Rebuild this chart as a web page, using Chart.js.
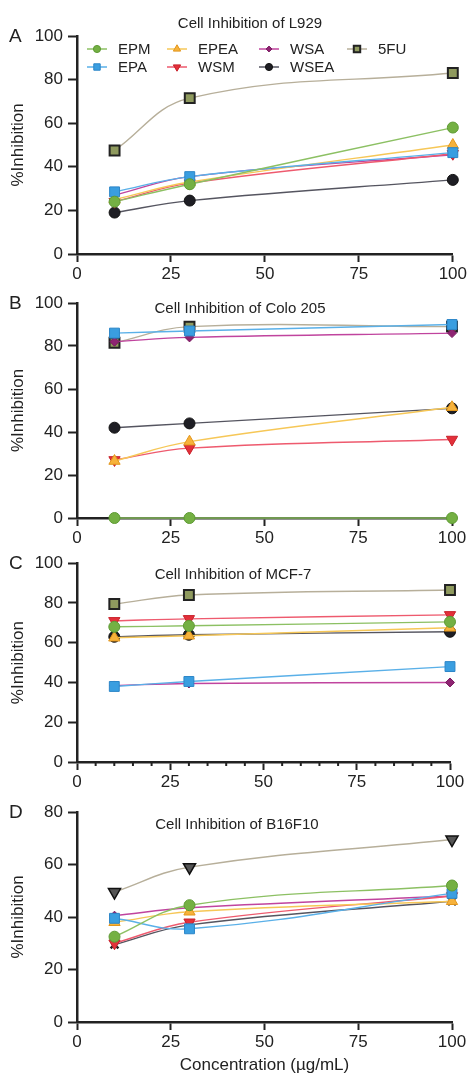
<!DOCTYPE html>
<html lang="en">
<head>
<meta charset="UTF-8">
<title>Cell Inhibition</title>
<script src="https://cdn.jsdelivr.net/npm/chart.js"></script>
<style>
  body { margin: 0; background: #fff; }
  #wrap { position: relative; width: 469px; height: 1076px; }
  .panel { position: absolute; left: 0; width: 469px; }
</style>
</head>
<body>
<div id="wrap">
  <div class="panel" style="top:0px;height:284px"><canvas id="chartA" width="469" height="284"></canvas></div>
  <div class="panel" style="top:284px;height:264px"><canvas id="chartB" width="469" height="264"></canvas></div>
  <div class="panel" style="top:548px;height:244px"><canvas id="chartC" width="469" height="244"></canvas></div>
  <div class="panel" style="top:792px;height:284px"><canvas id="chartD" width="469" height="284"></canvas></div>
</div>
<script>
// data (x = concentration, ug/mL)
const concentrations = [10, 30, 100];
const seriesNames = ['EPM', 'EPA', 'EPEA', 'WSM', 'WSA', 'WSEA', '5FU'];
const xTickValues = [0, 25, 50, 75, 100];
const yTicks100 = [0, 20, 40, 60, 80, 100];
const yTicks80 = [0, 20, 40, 60, 80];

// rows follow seriesNames
const l929 = [
  [24, 32, 58],
  [28.5, 35.5, 46.5],
  [25, 33, 50],
  [24, 32.5, 46],
  [27, 35.5, 45.5],
  [19, 24.5, 34],
  [47.5, 71.5, 83]
];
const colo205 = [
  [0, 0, 0],
  [86, 87, 90],
  [26.5, 35.5, 51.5],
  [27, 32.5, 36.5],
  [82, 84, 86],
  [42, 44, 51],
  [81.5, 89, 89]
];
const mcf7 = [
  [68, 68.5, 70.5],
  [38, 40.5, 48],
  [62.5, 63.5, 67.5],
  [71, 72, 74],
  [38.5, 39.5, 40],
  [63, 64, 65.5],
  [79.5, 84, 86.5]
];
const b16f10 = [
  [32.5, 44.5, 52],
  [39.5, 35.5, 49],
  [38, 42, 46],
  [30, 38, 48],
  [40.5, 43.5, 48],
  [29.5, 37, 46],
  [49.5, 59, 69.5]
];

const fontFamily = '"Liberation Sans", Arial, sans-serif';
const axisColor = '#222';

const seriesStyle = {
  'EPM':  { line: '#8cc063', fill: '#74b043', border: '#5e9a34', style: 'circle',   rotation: 0,   radius: 5.5, bw: 1 },
  'EPA':  { line: '#5ab0e8', fill: '#3a9ee0', border: '#2c86c8', style: 'rect',     rotation: 0,   radius: 7,   bw: 1 },
  'EPEA': { line: '#f6c757', fill: '#f7b23b', border: '#e2961c', style: 'triangle', rotation: 0,   radius: 6.5, bw: 1 },
  'WSM':  { line: '#ee5a6e', fill: '#e3303a', border: '#c8202a', style: 'triangle', rotation: 180, radius: 6.5, bw: 1 },
  'WSA':  { line: '#c0449e', fill: '#8e2472', border: '#7a1a60', style: 'rectRot',  rotation: 0,   radius: 4.5, bw: 1 },
  'WSEA': { line: '#555560', fill: '#1e1e24', border: '#111',    style: 'circle',   rotation: 0,   radius: 5.5, bw: 1 },
  '5FU':  { line: '#b7af9a', fill: '#8f9a5e', border: '#222',    style: 'rect',     rotation: 0,   radius: 7,   bw: 2 }
};

const panelTitle = {
  id: 'panelTitle',
  afterDraw(chart, args, opts) {
    const ctx = chart.ctx, a = chart.chartArea;
    ctx.save();
    ctx.fillStyle = '#222';
    ctx.textBaseline = 'middle';
    ctx.font = '15px ' + fontFamily;
    ctx.textAlign = 'center';
    ctx.fillText(opts.text, opts.x, a.top + opts.dy);
    ctx.font = '19px ' + fontFamily;
    ctx.textAlign = 'left';
    ctx.fillText(opts.letter, 9, a.top + 1);
    ctx.restore();
  }
};

const panelLegend = {
  id: 'panelLegend',
  afterDraw(chart, args, opts) {
    if (!opts.show) return;
    const ctx = chart.ctx, a = chart.chartArea;
    const cols = [20, 100, 192, 280];
    const rows = [13, 31];
    ctx.save();
    chart.data.datasets.forEach((ds, i) => {
      const cx = a.left + cols[Math.floor(i / 2)];
      const cy = a.top + rows[i % 2];
      ctx.strokeStyle = ds.borderColor;
      ctx.lineWidth = 1.5;
      ctx.beginPath();
      ctx.moveTo(cx - 10, cy);
      ctx.lineTo(cx + 10, cy);
      ctx.stroke();
      ctx.fillStyle = ds.pointBackgroundColor;
      ctx.strokeStyle = ds.pointBorderColor;
      ctx.lineWidth = ds.pointBorderWidth;
      Chart.helpers.drawPoint(ctx, {
        pointStyle: ds.pointStyle, rotation: ds.pointRotation,
        radius: ds.pointRadius * 0.65, borderWidth: ds.pointBorderWidth
      }, cx, cy);
      ctx.fillStyle = '#222';
      ctx.font = '15px ' + fontFamily;
      ctx.textAlign = 'left';
      ctx.textBaseline = 'middle';
      ctx.fillText(ds.label, cx + 21, cy + 1);
    });
    ctx.restore();
  }
};

const minorTicks = {
  id: 'minorTicks',
  afterDraw(chart, args, opts) {
    if (!opts.show) return;
    const ctx = chart.ctx, xs = chart.scales.x, a = chart.chartArea;
    ctx.save();
    ctx.strokeStyle = axisColor;
    ctx.lineWidth = 2;
    for (let v = 5; v < 100; v += 5) {
      if (v % 25 === 0) continue;
      const px = xs.getPixelForValue(v);
      ctx.beginPath();
      ctx.moveTo(px, a.bottom);
      ctx.lineTo(px, a.bottom + 4);
      ctx.stroke();
    }
    ctx.restore();
  }
};

function makePanel(id, cfg) {
  const datasets = seriesNames.map((name, i) => {
    const s = Object.assign({}, seriesStyle[name], (cfg.override || {})[name] || {});
    return {
      label: name,
      data: concentrations.map((c, j) => ({ x: c, y: cfg.values[i][j] })),
      borderColor: s.line,
      borderWidth: 1.4,
      backgroundColor: s.fill,
      pointBackgroundColor: s.fill,
      pointBorderColor: s.border,
      pointBorderWidth: s.bw,
      pointStyle: s.style,
      pointRotation: s.rotation,
      pointRadius: s.radius,
      tension: 0.4,
      clip: false
    };
  });

  new Chart(document.getElementById(id), {
    type: 'line',
    data: { datasets },
    plugins: [panelTitle, panelLegend, minorTicks],
    options: {
      responsive: false,
      animation: false,
      layout: { padding: { top: cfg.padTop, right: cfg.padRight, left: 0, bottom: 0 } },
      plugins: {
        legend: { display: false },
        tooltip: { enabled: false },
        panelTitle: { text: cfg.title, x: cfg.titleX, dy: cfg.titleDy, letter: cfg.letter },
        panelLegend: { show: !!cfg.legend },
        minorTicks: { show: !!cfg.minor }
      },
      scales: {
        x: {
          type: 'linear', min: 0, max: 100,
          afterBuildTicks: s => { s.ticks = xTickValues.map(v => ({ value: v })); },
          afterFit: s => { s.height = cfg.xHeight; },
          grid: { drawOnChartArea: false, drawTicks: true, tickLength: 8, tickColor: axisColor, tickWidth: 2 },
          border: { color: axisColor, width: 2.5 },
          ticks: { color: '#222', font: { family: fontFamily, size: 17 }, padding: 2, maxRotation: 0, autoSkip: false },
          title: {
            display: !!cfg.xTitle, text: cfg.xTitle || '', color: '#222',
            font: { family: fontFamily, size: 17 }, padding: { top: 0, bottom: 0 }
          }
        },
        y: {
          type: 'linear', min: 0, max: cfg.yMax,
          afterBuildTicks: s => { s.ticks = cfg.yTicks.map(v => ({ value: v })); },
          afterFit: s => { s.width = 77; },
          grid: { drawOnChartArea: false, drawTicks: true, tickLength: 9, tickColor: axisColor, tickWidth: 2 },
          border: { color: axisColor, width: 2.5 },
          ticks: { color: '#222', font: { family: fontFamily, size: 17 }, padding: 5 },
          title: {
            display: true, text: '%Inhibition', color: '#222',
            font: { family: fontFamily, size: 17 }, padding: { top: 8, bottom: 0 }
          }
        }
      }
    }
  });
}

makePanel('chartA', {
  values: l929, yMax: 100, yTicks: yTicks100, padTop: 36, padRight: 15, xHeight: 30,
  title: 'Cell Inhibition of L929', titleX: 250, titleDy: -12, letter: 'A', legend: true
});
makePanel('chartB', {
  values: colo205, yMax: 100, yTicks: yTicks100, padTop: 19, padRight: 17, xHeight: 30,
  title: 'Cell Inhibition of Colo 205', titleX: 240, titleDy: 6, letter: 'B'
});
makePanel('chartC', {
  values: mcf7, yMax: 100, yTicks: yTicks100, padTop: 15, padRight: 19, xHeight: 30,
  title: 'Cell Inhibition of MCF-7', titleX: 233, titleDy: 12, letter: 'C', minor: true
});
makePanel('chartD', {
  values: b16f10, yMax: 80, yTicks: yTicks80, padTop: 20, padRight: 17, xHeight: 54,
  title: 'Cell Inhibition of B16F10', titleX: 237, titleDy: 13, letter: 'D',
  xTitle: 'Concentration (\u00b5g/mL)',
  override: {
    '5FU': { style: 'triangle', rotation: 180, fill: '#555', border: '#111', bw: 1.5 },
    'WSEA': { style: 'crossRot', fill: '#222', border: '#222', bw: 2.5 }
  }
});
</script>
</body>
</html>
